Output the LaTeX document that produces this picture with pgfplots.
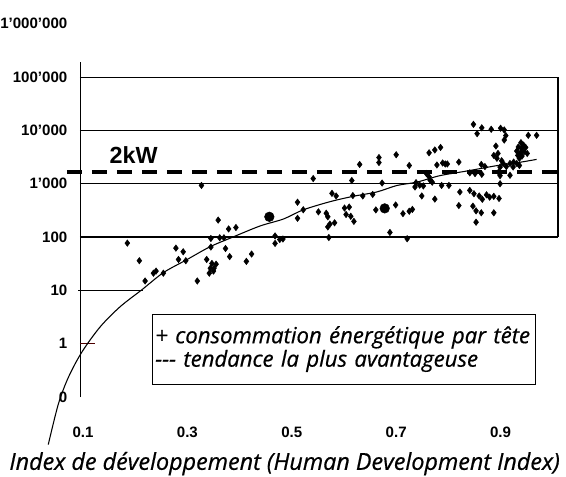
\documentclass[border=0pt]{standalone}
\usepackage{fontspec}
\setmainfont{Liberation Sans}
\newfontfamily\legfont[FakeBold=0.6]{Open Sans}
\usepackage{pgfplots}
\pgfplotsset{compat=1.18}
\begin{document}
\begin{tikzpicture}
\begin{axis}[
  scale only axis, width=358.5pt, height=279.9pt,
  xmin=0.0943, xmax=1.01, ymode=log, ymin=0.1, ymax=1e6,
  axis line style={draw=none},
  tick style={draw=none},
  major tick length=0pt, minor tick length=0pt,
  xtick={0.1,0.3,0.5,0.7,0.9}, xticklabels={0.1,0.3,0.5,0.7,0.9},
  ytick={0.1,1,10,100,1000,10000,100000,1000000},
  yticklabels={0,1,10,100,1'000,10'000,100'000,1'000'000},
  tick label style={font=\fontsize{11.3}{13}\selectfont\bfseries},
  yticklabel style={xshift=-6pt},
  xticklabel style={yshift=-19pt},
  extra y ticks={100,1000,10000,100000}, extra y tick labels={},
  extra y tick style={ymajorgrids=true, major grid style={black, line width=0.9pt}},
  clip=false,
  xlabel={Index de développement (Human Development Index)},
  xlabel style={at={(axis description cs:0.428,0)}, anchor=center, yshift=-50pt, font=\legfont\itshape\fontsize{17.5}{19}\selectfont},
]
% axis frame pieces
\draw[line width=0.9pt] (axis cs:0.096,0.1) -- (axis cs:0.096,1.9e5);
\draw[line width=0.9pt] (axis cs:0.0905,10) -- (axis cs:0.215,10);
\draw[line width=0.9pt] (axis cs:1.01,100) -- (axis cs:1.01,1e5);
\draw[line width=0.8pt, black!70!red] (axis cs:0.094,1) -- (axis cs:0.123,1);
% 2kW line
\addplot[black, line width=3pt, dash pattern=on 11.25pt off 7.5pt] coordinates {(0.069,1670) (1.025,1670)};
\node[font=\fontsize{17.5}{20}\selectfont\bfseries] at (axis cs:0.197,3380) {2kW};
% trend curve
\addplot[black, line width=0.8pt, smooth] coordinates {
(0.0335,0.0128) (0.0527,0.073) (0.0718,0.231) (0.0975,0.687) (0.1326,2.05) (0.171,4.92)
(0.213,10.3) (0.254,21.5) (0.299,37.7) (0.343,65.5) (0.385,98) (0.439,161) (0.484,218)
(0.522,324) (0.573,460) (0.618,582) (0.663,702) (0.701,925) (0.740,1075) (0.784,1420)
(0.835,1730) (0.892,2180) (0.930,2460) (0.969,2860)};
% scatter
\addplot[only marks, mark=diamond*, mark size=2.4pt, black] coordinates {
(0.185,77) (0.208,36) (0.219,15) (0.235,21) (0.240,23) (0.254,21) (0.278,62) (0.292,53)
(0.283,38) (0.297,36) (0.319,15) (0.337,38) (0.345,94) (0.345,65) (0.359,208) (0.362,97)
(0.370,97) (0.373,61) (0.379,142) (0.393,151) (0.381,43) (0.347,32) (0.355,31) (0.344,26)
(0.351,26) (0.342,21) (0.350,23) (0.413,35) (0.423,48) (0.327,930)
(0.541,1250) (0.615,1150) (0.630,2300) (0.667,3100) (0.667,2500) (0.700,3500) (0.673,1030)
(0.511,450) (0.522,325) (0.511,225) (0.468,105) (0.468,76) (0.477,90) (0.483,92)
(0.551,297) (0.566,280) (0.569,240) (0.577,660) (0.585,590) (0.569,155) (0.573,175)
(0.582,185) (0.571,98) (0.601,350) (0.610,365) (0.604,265) (0.613,245) (0.619,197)
(0.617,600) (0.636,590) (0.655,630) (0.661,323) (0.699,400) (0.688,122)
(0.848,13000) (0.855,8700) (0.725,2200) (0.763,3800) (0.774,4300) (0.785,4800)
(0.778,2250) (0.789,2450) (0.794,2350) (0.798,2350) (0.820,2550) (0.758,1550)
(0.763,1350) (0.765,1170) (0.738,1050) (0.745,940) (0.752,910) (0.736,870) (0.769,1070)
(0.787,930) (0.801,930) (0.749,590) (0.774,515) (0.822,700) (0.820,390)
(0.713,275) (0.725,305) (0.731,330) (0.721,93)
(0.864,11200) (0.882,10500) (0.900,11000) (0.907,10200) (0.910,8000) (0.907,6600)
(0.891,5100) (0.895,3700) (0.887,3400) (0.893,3000) (0.953,8100) (0.969,8100)
(0.939,5900) (0.944,5300) (0.934,4900) (0.940,4600) (0.948,4800) (0.931,4100)
(0.938,3800) (0.945,4000) (0.933,3400) (0.941,3300) (0.951,3700) (0.936,3000)
(0.863,2300) (0.870,2100) (0.902,2700) (0.905,2400) (0.911,2100) (0.899,2050)
(0.918,2400) (0.925,2550) (0.931,2400) (0.936,2200) (0.924,2060) (0.841,1600)
(0.851,1550) (0.864,1500) (0.896,1650) (0.899,1420) (0.918,1440) (0.899,1000)
(0.841,750) (0.849,650) (0.859,590) (0.865,510) (0.873,620) (0.879,560) (0.887,580)
(0.897,530) (0.847,380) (0.853,310) (0.863,285) (0.887,285) (0.853,190)};
\addplot[only marks, mark=*, mark size=3.6pt, black] coordinates {(0.457,240) (0.678,345)};
% legend box
\node[draw, line width=0.9pt, fill=white, anchor=north west, inner sep=2pt, text width=283pt,
  minimum height=52.5pt, align=left, font=\legfont\itshape\fontsize{16.6}{16}\selectfont]
  at (axis cs:0.2322,3.68) {+ consommation énergétique par tête\\-{}-{}- tendance la plus avantageuse};
\end{axis}
\pgfresetboundingbox
\path[use as bounding box] (-60pt,-60pt) rectangle (364.5pt,297.75pt);
\end{tikzpicture}
\end{document}
